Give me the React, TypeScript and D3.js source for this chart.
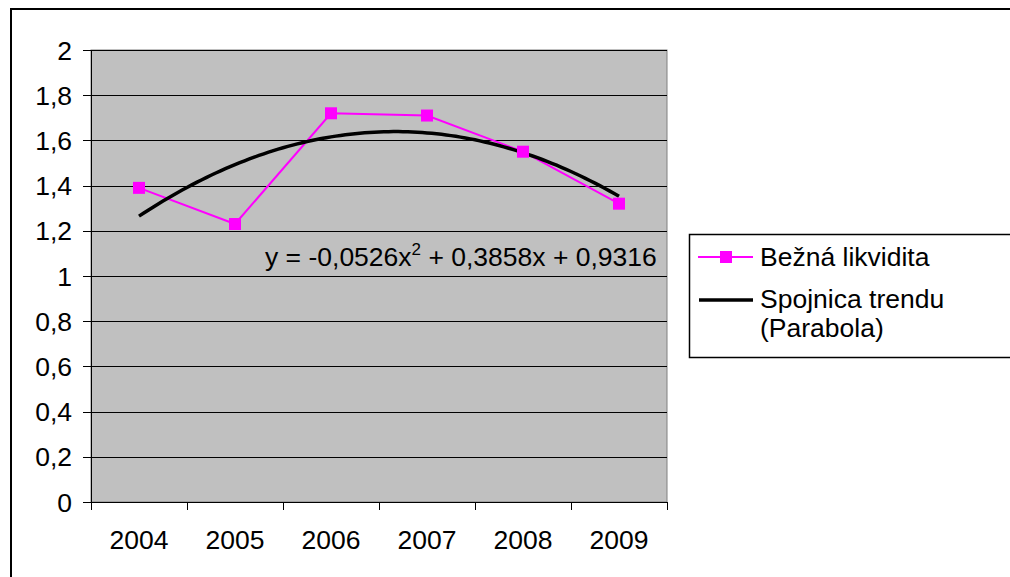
import React from "react";
import * as d3 from "d3";

// Current ratio by year and the fitted polynomial trend (Excel-style parabola)
const years = ["2004", "2005", "2006", "2007", "2008", "2009"];
const liquidity = [1.39, 1.23, 1.72, 1.71, 1.55, 1.32];
// coefficients of y = a·x² + b·x + c, with x = 1..6 for the categories
const trendCoefficients = [-0.0526, 0.3858, 0.9316];
const yTicks = [0, 0.2, 0.4, 0.6, 0.8, 1, 1.2, 1.4, 1.6, 1.8, 2];
const seriesName = "Bežná likvidita";
const trendNameLines = ["Spojnica trendu", "(Parabola)"];
const equationText = "y = -0,0526x";
const equationRest = " + 0,3858x + 0,9316";

const W = 1010;
const H = 577;
const plot = { left: 91, top: 50, right: 667, bottom: 502 };
const FONT = "'Liberation Sans', Arial, sans-serif";
const FS = 26.5;

export default function App() {
  const x = d3
    .scaleBand<string>()
    .domain(years)
    .range([plot.left, plot.right])
    .paddingInner(0)
    .paddingOuter(0);
  const xc = (i: number) => (x(years[i]) as number) + x.bandwidth() / 2;
  const y = d3.scaleLinear().domain([0, 2]).range([plot.bottom, plot.top]);
  const fmt = (v: number) => String(+v.toFixed(1)).replace(".", ",");

  const seriesLine = d3
    .line<number>()
    .x((_, i) => xc(i))
    .y((d) => y(d))(liquidity) as string;

  const [a, b, c] = trendCoefficients;
  const trendX = d3.scaleLinear().domain([1, 6]).range([xc(0), xc(5)]);
  const trendPts = d3.range(0, 101).map((k) => 1 + (5 * k) / 100);
  const trendLine = d3
    .line<number>()
    .x((t) => trendX(t))
    .y((t) => y(a * t * t + b * t + c))(trendPts) as string;

  const boundaries = d3.range(0, years.length + 1).map(
    (i) => plot.left + i * x.bandwidth()
  );

  return (
    <svg
      width={W}
      height={H}
      style={{ position: "absolute", left: 0, top: 0, display: "block" }}
      fontFamily={FONT}
    >
      <rect x={0} y={0} width={W} height={H} fill="#fff" />
      {/* outer chart frame */}
      <rect x={11} y={9} width={W + 20} height={H + 20} fill="none" stroke="#000" strokeWidth={2} />

      {/* plot area */}
      <rect
        x={plot.left}
        y={plot.top}
        width={plot.right - plot.left}
        height={plot.bottom - plot.top}
        fill="#C0C0C0"
        stroke="#808080"
        strokeWidth={1}
      />
      {yTicks.slice(1).map((t) => (
        <line
          key={"g" + t}
          x1={plot.left}
          x2={plot.right}
          y1={Math.round(y(t)) + 0.5}
          y2={Math.round(y(t)) + 0.5}
          stroke="#000"
          strokeWidth={1}
        />
      ))}

      {/* axes */}
      <line x1={plot.left + 0.5} x2={plot.left + 0.5} y1={plot.top} y2={plot.bottom} stroke="#000" />
      <line x1={plot.left} x2={plot.right} y1={plot.bottom + 0.5} y2={plot.bottom + 0.5} stroke="#000" />
      {yTicks.map((t) => (
        <g key={"yt" + t}>
          <line
            x1={plot.left - 8}
            x2={plot.left}
            y1={Math.round(y(t)) + 0.5}
            y2={Math.round(y(t)) + 0.5}
            stroke="#000"
          />
          <text x={72} y={y(t) + 9.5} textAnchor="end" fontSize={FS} fill="#000">
            {fmt(t)}
          </text>
        </g>
      ))}
      {boundaries.map((bx, i) => (
        <line
          key={"xt" + i}
          x1={Math.round(bx) + 0.5}
          x2={Math.round(bx) + 0.5}
          y1={plot.bottom}
          y2={plot.bottom + 8}
          stroke="#000"
        />
      ))}
      {years.map((yr, i) => (
        <text key={yr} x={xc(i)} y={549} textAnchor="middle" fontSize={FS} fill="#000">
          {yr}
        </text>
      ))}

      {/* data series */}
      <path d={seriesLine} fill="none" stroke="#FF00FF" strokeWidth={2} />
      {/* polynomial trend */}
      <path d={trendLine} fill="none" stroke="#000" strokeWidth={3.5} strokeLinejoin="round" />
      {liquidity.map((v, i) => (
        <rect key={"m" + i} x={xc(i) - 6} y={y(v) - 6} width={12} height={12} fill="#FF00FF" />
      ))}

      {/* trend equation */}
      <text x={265} y={266} fontSize={FS} fill="#000">
        {equationText}
        <tspan fontSize={17} dy={-11}>2</tspan>
        <tspan dy={11}>{equationRest}</tspan>
      </text>

      {/* legend */}
      <rect x={689.5} y={234.5} width={340} height={123} fill="#fff" stroke="#000" strokeWidth={1.5} />
      <line x1={698} x2={753} y1={257} y2={257} stroke="#FF00FF" strokeWidth={2} />
      <rect x={720} y={251} width={12} height={12} fill="#FF00FF" />
      <text x={760} y={266} fontSize={FS} fill="#000">{seriesName}</text>
      <line x1={699} x2={753} y1={300} y2={300} stroke="#000" strokeWidth={3.5} />
      <text x={760} y={308} fontSize={FS} fill="#000">{trendNameLines[0]}</text>
      <text x={760} y={337} fontSize={FS} fill="#000">{trendNameLines[1]}</text>
    </svg>
  );
}
